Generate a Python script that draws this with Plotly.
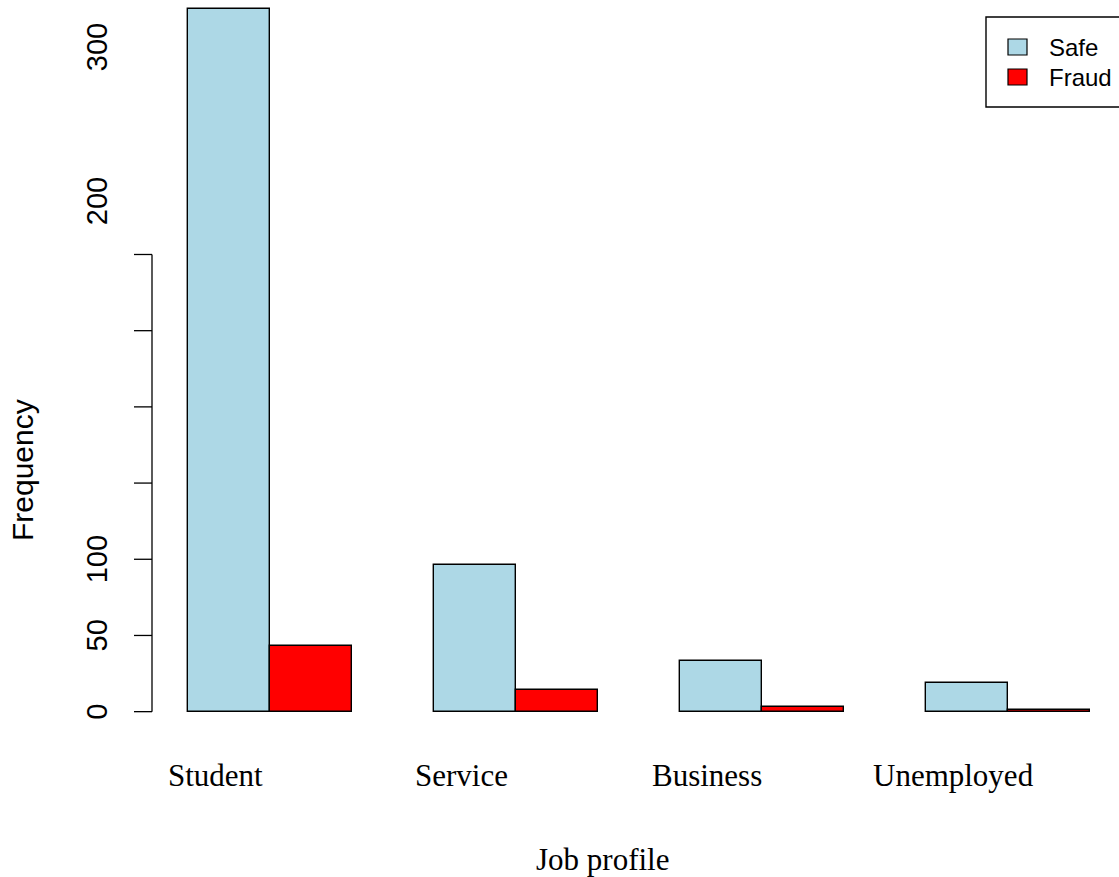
import plotly.graph_objects as go

categories = ["Student", "Service", "Business", "Unemployed"]
safe_values = [461, 96, 33, 19]
fraud_values = [43, 14, 3, 1]
series_names = ["Safe", "Fraud"]
series_colors = ["#ADD8E6", "#FF0000"]
tick_values = [0, 50, 100, 150, 200, 250, 300]
tick_labels_low = {0: "0", 50: "50", 100: "100"}
tick_labels_high = {"200": 335, "300": 436}

W, H = 1119, 877
L, R, T, B = 152, 0, 0, 137
PW, PH = W - L - R, H - T - B
x_range = [0.561, 12.354]
y_range = [-18.6, 467.0]

def px(x):
    return (x - L) / PW

def py(y):
    return 1 - (y - T) / PH

group_start = [1 + 3 * i for i in range(len(categories))]

fig = go.Figure()
for k, (vals, name, col) in enumerate(zip([safe_values, fraud_values], series_names, series_colors)):
    fig.add_trace(go.Bar(
        x=[s + 0.5 + k for s in group_start], y=vals, width=1, name=name,
        marker=dict(color=col, line=dict(color="black", width=1.4)),
        showlegend=False,
    ))

shapes = [dict(type="line", xref="paper", yref="y", x0=0, x1=0, y0=0, y1=300,
               line=dict(color="black", width=1.3))]
for tv in tick_values:
    shapes.append(dict(type="line", xref="paper", yref="y", x0=-18 / PW, x1=0,
                       y0=tv, y1=tv, line=dict(color="black", width=1.3)))

ann = []
lab_x = px(97)
for v, t in tick_labels_low.items():
    ann.append(dict(text=t, xref="paper", yref="y", x=lab_x, y=v, showarrow=False,
                    textangle=-90, font=dict(family="Liberation Sans", size=29, color="black"),
                    xanchor="center", yanchor="middle"))
for t, v in tick_labels_high.items():
    ann.append(dict(text=t, xref="paper", yref="y", x=lab_x, y=v, showarrow=False,
                    textangle=-90, font=dict(family="Liberation Sans", size=29, color="black"),
                    xanchor="center", yanchor="middle"))
for c, s in zip(categories, group_start):
    ann.append(dict(text=c, xref="x", yref="paper", x=s + 0.33, y=py(775),
                    showarrow=False, font=dict(family="Liberation Serif", size=31, color="black"),
                    xanchor="center", yanchor="middle"))
ann.append(dict(text="Job profile", xref="paper", yref="paper", x=px(602), y=py(860),
                showarrow=False, font=dict(family="Liberation Serif", size=31, color="black"),
                xanchor="center", yanchor="middle"))
ann.append(dict(text="Frequency", xref="paper", yref="paper", x=px(23), y=py(470),
                showarrow=False, textangle=-90,
                font=dict(family="Liberation Sans", size=30, color="black"),
                xanchor="center", yanchor="middle"))

# legend drawn manually (R-style box legend)
shapes.append(dict(type="rect", xref="paper", yref="paper", x0=px(986), x1=px(1130),
                   y0=py(107), y1=py(17), line=dict(color="black", width=1.4),
                   fillcolor="white"))
item_y = [47, 77]
for name, col, yc in zip(series_names, series_colors, item_y):
    shapes.append(dict(type="rect", xref="paper", yref="paper", x0=px(1008), x1=px(1027),
                       y0=py(yc + 8), y1=py(yc - 8), line=dict(color="black", width=1.2),
                       fillcolor=col))
    ann.append(dict(text=name, xref="paper", yref="paper", x=px(1047), y=py(yc),
                    showarrow=False, font=dict(family="Liberation Sans", size=24, color="black"),
                    xanchor="left", yanchor="middle"))

fig.update_layout(
    width=W, height=H, margin=dict(l=L, r=R, t=T, b=B, pad=0),
    plot_bgcolor="white", paper_bgcolor="white",
    showlegend=False,
    xaxis=dict(range=x_range, visible=False, fixedrange=True),
    yaxis=dict(range=y_range, visible=False, fixedrange=True),
    shapes=shapes, annotations=ann, bargap=0,
)
fig.write_html("out.html")
